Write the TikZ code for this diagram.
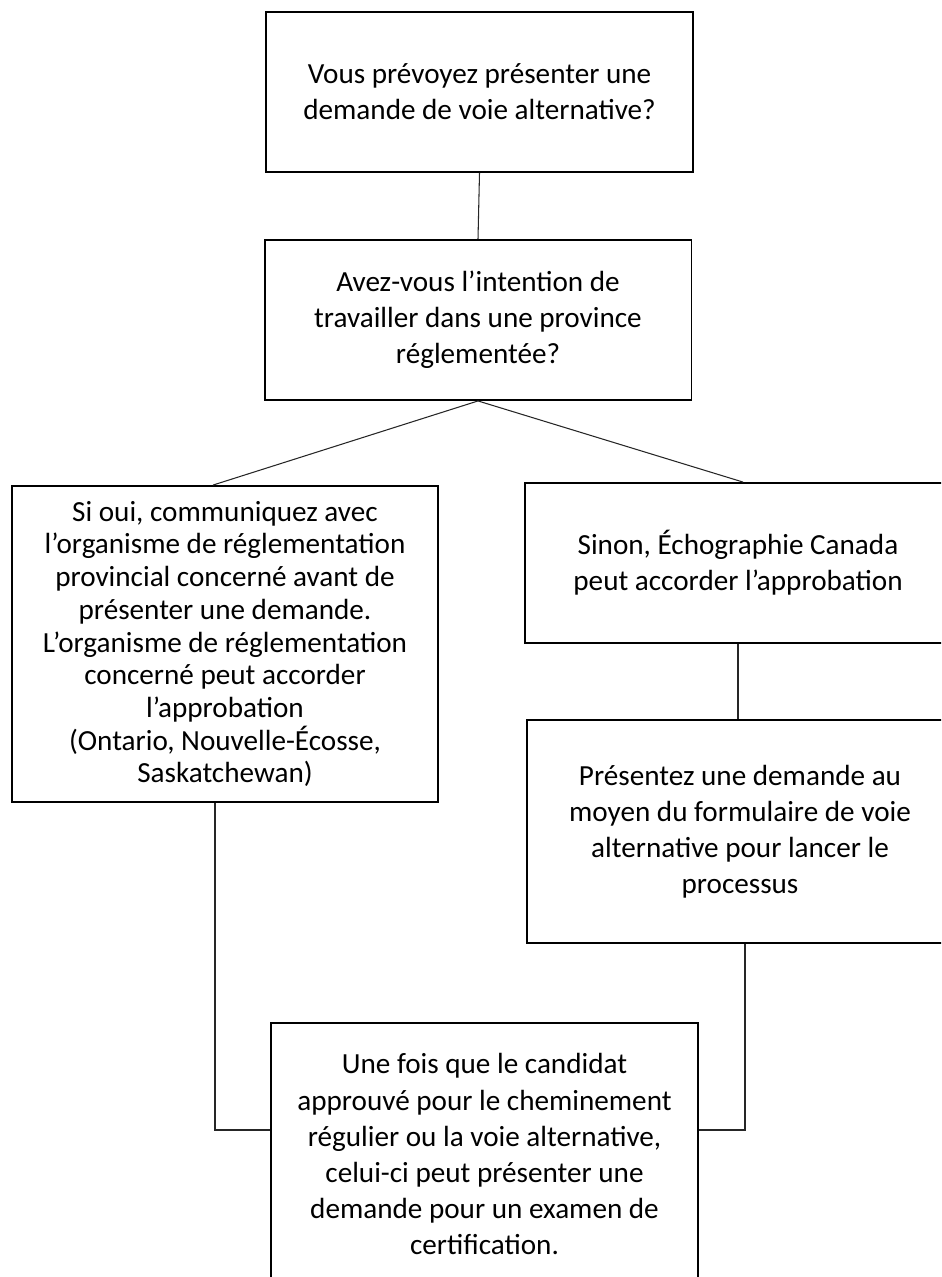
\documentclass[tikz,border=0pt]{standalone}
\usepackage{fontspec}
\setmainfont{Carlito}
\begin{document}
\begin{tikzpicture}[x=0.02cm,y=-0.02cm,box/.style={draw,line width=1.1pt,align=center,minimum width=8.54cm,inner sep=0pt,font=\fontsize{16.6}{20.5}\selectfont},link/.style={line width=0.6pt,black!85}]
  \clip (0,0) rectangle (941,1277);
  \begin{scope}[every node/.style={box}]
    \node[minimum height=3.2cm] (plan) at (479.5,92) {Vous prévoyez présenter une\\demande de voie alternative?};
    \node[minimum height=3.2cm] (province) at (478,320) {Avez-vous l’intention de\\travailler dans une province\\réglementée?};
    \node[minimum height=6.32cm,font=\fontsize{16.6}{18.6}\selectfont] (oui) at (225,644) {Si oui, communiquez avec\\l’organisme de réglementation\\provincial concerné avant de\\présenter une demande.\\L’organisme de réglementation\\concerné peut accorder\\l’approbation\\(Ontario, Nouvelle-Écosse,\\Saskatchewan)};
    \node[minimum height=3.2cm] (sinon) at (738,563) {Sinon, Échographie Canada\\peut accorder l’approbation};
    \node[minimum height=4.46cm] (formulaire) at (740,831.5) {Présentez une demande au\\moyen du formulaire de voie\\alternative pour lancer le\\processus};
    \node[minimum height=5.24cm] (examen) at (484.5,1154) {Une fois que le candidat\\approuvé pour le cheminement\\régulier ou la voie alternative,\\celui-ci peut présenter une\\demande pour un examen de\\certification.};
  \end{scope}
  \draw[link] (plan.south) -- (province.north);
  \draw[link] (province.south) -- ([xshift=-0.24cm]oui.north);
  \draw[link] (province.south) -- ([xshift=0.1cm]sinon.north);
  \draw[link] (sinon.south) -- (sinon.south |- formulaire.north);
  \draw[link] ([xshift=-0.2cm]oui.south) |- ([yshift=0.48cm]examen.west);
  \draw[link] ([xshift=0.1cm]formulaire.south) |- ([yshift=0.48cm]examen.east);
\end{tikzpicture}
\end{document}
